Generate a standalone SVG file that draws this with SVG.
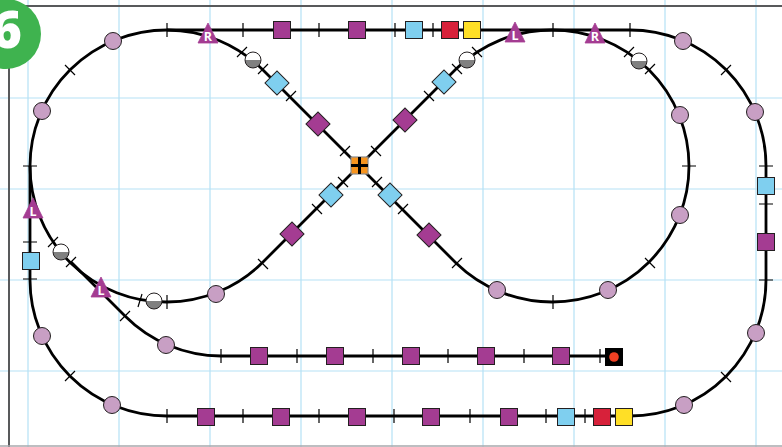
<svg xmlns="http://www.w3.org/2000/svg" xmlns:xlink="http://www.w3.org/1999/xlink" width="782" height="447" viewBox="0 0 782 447">
<style>
.grid{stroke:#b5e2f5;stroke-width:1.2;fill:none}
.frame{stroke:#58595b;stroke-width:2;fill:none}
.track{stroke:#000;stroke-width:2.8;fill:none}
.tick{stroke:#000;stroke-width:1.2;fill:none}
.n{stroke:#231f20;stroke-width:1}
.p{fill:#a43c92}.b{fill:#7fcfef}.r{fill:#d7213a}.y{fill:#ffdf26}.c{fill:#c89fc4}
.tg{stroke:#a43c92;stroke-width:0.8}
.t{font-family:"Open Sans","Liberation Sans",sans-serif;font-weight:700;font-size:12.500px;fill:#fff;stroke:none;text-anchor:middle}
</style>
<defs>
<rect id="sq" x="-8.500" y="-8.500" width="17" height="17"/>
<rect id="dm" x="-8.500" y="-8.500" width="17" height="17" transform="rotate(45)"/>
<circle id="ci" r="8.500"/>
<polygon id="tr" points="0,-13 10,7 -10,7"/>
<g id="hc"><circle r="8" fill="#fff"/><path d="M-8 0A8 8 0 0 0 8 0Z" fill="#808080"/><circle r="8" fill="none" stroke="#231f20" stroke-width="1"/></g>
</defs>
<g id="grid" class="grid">
<path d="M28 0V447M119 0V447M210 0V447M301 0V447M392 0V447M483 0V447M574 0V447M665 0V447M756 0V447"/>
<path d="M0 98H782M0 189H782M0 280H782M0 371H782"/>
</g>
<path class="frame" d="M9 447V6H782"/>
<path d="M0 446H782" stroke="#a7a9ac" stroke-width="1.500"/>
<g id="connectors">
<path class="track" d="M167 30H630A136 136 0 0 1 766 166V280A136 136 0 0 1 630 416H167A137 136 0 0 1 30 280V166A137 136 0 0 1 167 30"/>
<path class="track" d="M167 30A136 136 0 0 1 263 70L359 166L263 262A136 136 0 0 1 167 302A136 136 0 0 1 30 166"/>
<path class="track" d="M552 30A137 136 0 0 0 456 69L359 166L456 263A137 136 0 0 0 552 302A137 136 0 0 0 689 166A137 136 0 0 0 552 30"/>
<path class="track" d="M71 262L125 316A136 136 0 0 0 221 356H614"/>
<path class="tick" d="M167 23V37M243 23V37M319 23V37M395 23V37M433 23V37M553 23V37M630 23V37M167 409V423M243 409V423M319 409V423M394 409V423M470 409V423M546 409V423M585 409V423M221 349V363M297 349V363M373 349V363M448 349V363M524 349V363M600 349V363M23 166H37M23 242H37M23 279H37M759 166H773M759 204H773M759 280H773M682 166H696M553 295V309M167 295V309"/>
<path class="tick" d="M65 65L75 75M721 75L731 65M65 381L75 371M721 372L731 382M237 57L247 47M258 74L268 64M286 101L296 91M340 156L350 146M371 146L381 156M424 91L434 101M452 64L462 74M472 47L482 57M624 57L634 47M645 74L655 64M338 177L348 187M372 187L382 177M312 204L322 214M398 214L408 204M258 259L268 269M452 268L462 258M645 258L655 268M48 247L58 237M66 267L76 257M120 321L130 311M138 307L142 294"/>
</g>
<g id="badge"><circle cx="6" cy="34" r="35" fill="#3fb34f"/><text x="-8" y="48" font-family="'Open Sans','Liberation Sans',sans-serif" font-weight="800" font-size="51" fill="#fff">6</text></g>
<g id="top-squares" class="n">
<use id="s1" xlink:href="#sq" x="282" y="30" class="p"/><use id="s2" xlink:href="#sq" x="357" y="30" class="p"/><use id="s3" xlink:href="#sq" x="414" y="30" class="b"/><use id="s4" xlink:href="#sq" x="450" y="30" class="r"/><use id="s5" xlink:href="#sq" x="472" y="30" class="y"/>
</g>
<g id="mid-squares" class="n">
<use xlink:href="#sq" x="259" y="356" class="p"/><use xlink:href="#sq" x="335" y="356" class="p"/><use xlink:href="#sq" x="411" y="356" class="p"/><use xlink:href="#sq" x="486" y="356" class="p"/><use xlink:href="#sq" x="561" y="356" class="p"/>
</g>
<g id="bottom-squares" class="n">
<use xlink:href="#sq" x="206" y="417" class="p"/><use xlink:href="#sq" x="281" y="417" class="p"/><use xlink:href="#sq" x="357" y="417" class="p"/><use xlink:href="#sq" x="431" y="417" class="p"/><use xlink:href="#sq" x="509" y="417" class="p"/><use xlink:href="#sq" x="566" y="417" class="b"/><use xlink:href="#sq" x="602" y="417" class="r"/><use xlink:href="#sq" x="624" y="417" class="y"/>
</g>
<g id="side-squares" class="n">
<use xlink:href="#sq" x="31" y="261" class="b"/><use xlink:href="#sq" x="766" y="186" class="b"/><use xlink:href="#sq" x="766" y="242" class="p"/>
</g>
<g id="diamonds" class="n">
<use xlink:href="#dm" x="277" y="83" class="b"/><use xlink:href="#dm" x="444" y="82" class="b"/><use xlink:href="#dm" x="318" y="124" class="p"/><use xlink:href="#dm" x="405" y="120" class="p"/><use xlink:href="#dm" x="331" y="195" class="b"/><use xlink:href="#dm" x="390" y="195" class="b"/><use xlink:href="#dm" x="292" y="234" class="p"/><use xlink:href="#dm" x="429" y="235" class="p"/>
</g>
<g id="stations" class="n">
<use xlink:href="#ci" x="113" y="41" class="c"/><use xlink:href="#ci" x="42" y="111" class="c"/><use xlink:href="#ci" x="42" y="336" class="c"/><use xlink:href="#ci" x="112" y="405" class="c"/><use xlink:href="#ci" x="166" y="345" class="c"/><use xlink:href="#ci" x="216" y="294" class="c"/><use xlink:href="#ci" x="497" y="290" class="c"/><use xlink:href="#ci" x="608" y="290" class="c"/><use xlink:href="#ci" x="680" y="215" class="c"/><use xlink:href="#ci" x="680" y="115" class="c"/><use xlink:href="#ci" x="683" y="41" class="c"/><use xlink:href="#ci" x="755" y="112" class="c"/><use xlink:href="#ci" x="756" y="333" class="c"/><use xlink:href="#ci" x="684" y="405" class="c"/>
</g>
<g id="half-circles">
<use xlink:href="#hc" x="253" y="60"/><use xlink:href="#hc" x="467" y="60"/><use xlink:href="#hc" x="639" y="61"/><use xlink:href="#hc" x="61" y="252"/><use xlink:href="#hc" x="154" y="301"/>
</g>
<g id="tri-r1" class="tg"><use xlink:href="#tr" x="208" y="36" class="p"/><text class="t" x="208" y="41">R</text></g>
<g id="tri-l1" class="tg"><use xlink:href="#tr" x="515" y="35" class="p"/><text class="t" x="515" y="40">L</text></g>
<g id="tri-r2" class="tg"><use xlink:href="#tr" x="595" y="36" class="p"/><text class="t" x="595" y="41">R</text></g>
<g id="tri-l2" class="tg"><use xlink:href="#tr" x="33" y="211" class="p"/><text class="t" x="33" y="216">L</text></g>
<g id="tri-l3" class="tg"><use xlink:href="#tr" x="101" y="290" class="p"/><text class="t" x="101" y="295">L</text></g>
<g id="center"><rect x="351" y="157" width="17" height="17" fill="#f7941e" stroke="#8a8c8e" stroke-width="1.200"/><path d="M359.500 157V174M351 165.500H368" stroke="#000" stroke-width="3"/></g>
<g id="end"><rect x="605" y="348" width="18" height="18" fill="#000"/><circle cx="614" cy="357" r="4.800" fill="#ef4023"/></g>
</svg>
